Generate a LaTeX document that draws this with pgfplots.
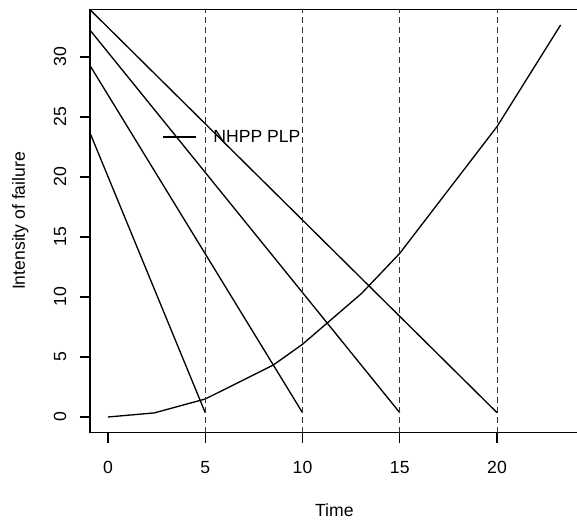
\documentclass[border=0pt]{standalone}
\usepackage{fontspec}
\setmainfont{Liberation Sans}
\usepackage{pgfplots}
\pgfplotsset{compat=1.18}
\begin{document}
\begin{tikzpicture}
\begin{axis}[
  at={(0,0)}, anchor=south west,
  scale only axis, width=366.6pt, height=317.6pt,
  xmin=-0.93, xmax=24.2, ymin=-1.31, ymax=33.98,
  axis line style={line width=1pt},
  xtick={0,5,10,15,20}, ytick={0,5,10,15,20,25,30},
  xtick pos=bottom, ytick pos=left,
  tick align=outside, major tick length=7.5pt,
  tick style={line width=1pt, black},
  /pgf/number format/assume math mode=true,
  tick label style={font=\fontsize{13.2}{15}\selectfont},
  xticklabel style={anchor=north, inner sep=0pt},
  xticklabel shift=13.7pt,
  yticklabel style={rotate=90, anchor=base, inner sep=0pt},
  yticklabel shift=10.3pt,
  xlabel={Time}, ylabel={Intensity of failure},
  label style={font=\fontsize{13.2}{15}\selectfont, inner sep=0pt},
  xlabel style={at={(axis description cs:0.5,-0.1984)}, anchor=base},
  ylabel style={at={(axis description cs:-0.1328,0.5)}, anchor=base},
  legend style={at={(axis cs:2.78,23.33)}, anchor=west, draw=none, fill=none,
    inner sep=0pt, outer sep=0pt, font=\fontsize{13.2}{15}\selectfont,
    nodes={inner sep=0pt}, column sep=0pt},
  legend image code/.code={\draw[#1] (0pt,0pt) -- (24.75pt,0pt); \path (37.5pt,0pt);},
]
\addplot[black, line width=1pt] coordinates {(0,0) (2.38,0.34) (5,1.5) (8.5,4.33) (10,6.06) (13.04,10.3) (15,13.64) (20,24.2) (23.27,32.67)};
\addlegendentry{NHPP PLP}
\addplot[black, line width=1pt, forget plot] coordinates {(-0.93,23.7) (5,0.36)};
\addplot[black, line width=1pt, forget plot] coordinates {(-0.93,29.3) (10,0.36)};
\addplot[black, line width=1pt, forget plot] coordinates {(-0.93,32.25) (15,0.36)};
\addplot[black, line width=1pt, forget plot] coordinates {(-0.93,33.95) (20,0.36)};
\addplot[black!80, line width=0.8pt, dash pattern=on 4.5pt off 3pt, forget plot] coordinates {(5,-1.31) (5,33.98)};
\addplot[black!80, line width=0.8pt, dash pattern=on 4.5pt off 3pt, forget plot] coordinates {(10,-1.31) (10,33.98)};
\addplot[black!80, line width=0.8pt, dash pattern=on 4.5pt off 3pt, forget plot] coordinates {(15,-1.31) (15,33.98)};
\addplot[black!80, line width=0.8pt, dash pattern=on 4.5pt off 3pt, forget plot] coordinates {(20,-1.31) (20,33.98)};
\end{axis}
\pgfresetboundingbox
\useasboundingbox (-67.4pt,-66.2pt) rectangle (365.3pt,324.5pt);
\end{tikzpicture}
\end{document}
